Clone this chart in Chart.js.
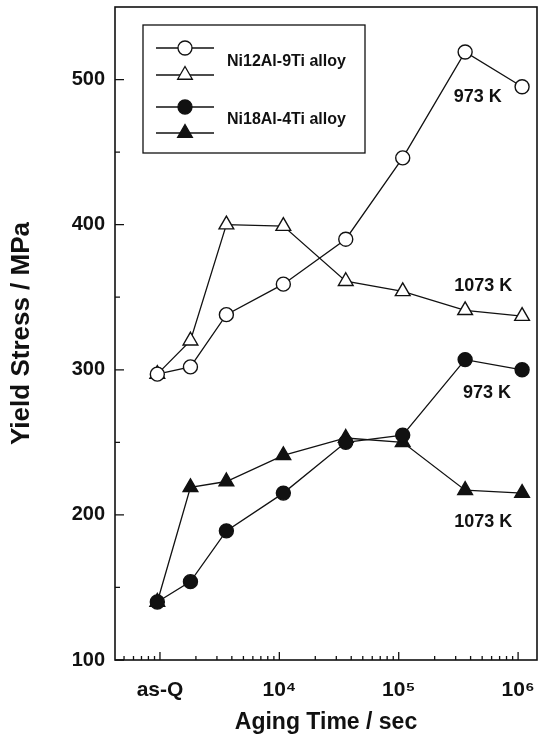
<!DOCTYPE html>
<html>
<head>
<meta charset="utf-8">
<script src="https://cdn.jsdelivr.net/npm/chart.js@4.4.1/dist/chart.umd.min.js"></script>
<style>
html,body{margin:0;padding:0;background:#fff}
#wrap{width:544px;height:738px}
</style>
</head>
<body>
<div id="wrap"><canvas id="graph"></canvas></div>
<script>
// tiempos de envejecimiento (s); el primero es el estado "as-Q"
const tiempos = [950, 1800, 3600, 10800, 36000, 108000, 360000, 1080000];
const ni12_973 = [297, 302, 338, 359, 390, 446, 519, 495];
const ni12_1073 = [297, 320, 400, 399, 361, 354, 341, 337];
const ni18_973 = [140, 154, 189, 215, 250, 255, 307, 300];
const ni18_1073 = [140, 219, 223, 241, 253, 250, 217, 215];
const xTicks = [1e3, 1e4, 1e5, 1e6];
const xTickLabels = ['as-Q', '10\u2074', '10\u2075', '10\u2076'];
const yTicks = [100, 200, 300, 400, 500];
const yMinor = [150, 250, 350, 450];
const aleaciones = ['Ni12Al-9Ti alloy', 'Ni18Al-4Ti alloy'];
const temperaturas = ['973 K', '1073 K', '973 K', '1073 K'];

const negro = '#111';
const fuente = 'Liberation Sans, Arial, sans-serif';
Chart.defaults.font.family = fuente;
Chart.defaults.color = '#111';

function serie(valores, estilo, relleno, radio) {
    return {
        data: tiempos.map((t, i) => ({x: t, y: valores[i]})),
        borderColor: negro,
        borderWidth: 1.3,
        pointStyle: estilo,
        pointRadius: radio,
        pointBorderWidth: 1.4,
        pointBorderColor: negro,
        pointBackgroundColor: relleno,
        tension: 0,
        clip: false
    };
}

// marco, marcas hacia dentro, leyenda y etiquetas de temperatura
const extras = {
    id: 'extras',
    afterDraw(chart) {
        const ctx = chart.ctx;
        const a = chart.chartArea;
        const sx = chart.scales.x, sy = chart.scales.y;
        ctx.save();
        ctx.strokeStyle = negro;
        ctx.lineWidth = 1.6;
        ctx.strokeRect(a.left, a.top, a.right - a.left, a.bottom - a.top);

        ctx.lineWidth = 1.3;
        ctx.beginPath();
        yTicks.forEach(v => { const y = sy.getPixelForValue(v); ctx.moveTo(a.left, y); ctx.lineTo(a.left + 9, y); });
        yMinor.forEach(v => { const y = sy.getPixelForValue(v); ctx.moveTo(a.left, y); ctx.lineTo(a.left + 5, y); });
        for (let d = 2; d <= 6; d++) {
            for (let m = 1; m <= 9; m++) {
                const v = m * Math.pow(10, d);
                if (v < sx.min || v > sx.max) continue;
                const x = sx.getPixelForValue(v);
                ctx.moveTo(x, a.bottom);
                ctx.lineTo(x, a.bottom - (m === 1 ? 8 : 4));
            }
        }
        ctx.stroke();

        // leyenda
        const lx = a.left + 28, ly = a.top + 18;
        ctx.lineWidth = 1.3;
        ctx.strokeRect(lx, ly, 222, 128);
        const filas = [
            {y: 23, estilo: 'circle', relleno: '#fff', r: 7},
            {y: 50, estilo: 'triangle', relleno: '#fff', r: 8.5},
            {y: 82, estilo: 'circle', relleno: negro, r: 7},
            {y: 108, estilo: 'triangle', relleno: negro, r: 8.5}
        ];
        filas.forEach(f => {
            const y = ly + f.y;
            ctx.beginPath();
            ctx.moveTo(lx + 13, y);
            ctx.lineTo(lx + 71, y);
            ctx.stroke();
            ctx.fillStyle = f.relleno;
            Chart.helpers.drawPoint(ctx, {pointStyle: f.estilo, radius: f.r, borderWidth: 1.4}, lx + 42, y);
        });
        ctx.fillStyle = negro;
        ctx.font = 'bold 16px ' + fuente;
        ctx.textBaseline = 'middle';
        ctx.textAlign = 'left';
        ctx.fillText(aleaciones[0], lx + 84, ly + 37);
        ctx.fillText(aleaciones[1], lx + 84, ly + 95);

        // temperaturas junto a cada curva
        const anclas = [[4.6e5, 488], [5.1e5, 358], [5.5e5, 284], [5.1e5, 195]];
        ctx.font = 'bold 18px ' + fuente;
        ctx.textAlign = 'center';
        anclas.forEach((p, i) => {
            ctx.fillText(temperaturas[i], sx.getPixelForValue(p[0]), sy.getPixelForValue(p[1]));
        });
        ctx.restore();
    }
};

new Chart(document.getElementById('graph'), {
    type: 'line',
    data: {
        datasets: [
            serie(ni12_973, 'circle', '#fff', 7),
            serie(ni12_1073, 'triangle', '#fff', 8.5),
            serie(ni18_973, 'circle', negro, 7),
            serie(ni18_1073, 'triangle', negro, 8.5)
        ]
    },
    options: {
        responsive: true,
        maintainAspectRatio: false,
        animation: false,
        layout: {autoPadding: false, padding: {left: 0, right: 7, top: 7, bottom: 0}},
        plugins: {legend: {display: false}, tooltip: {enabled: false}},
        scales: {
            x: {
                type: 'logarithmic',
                min: 420,
                max: 1.44e6,
                grid: {display: false},
                border: {display: false},
                afterBuildTicks: s => { s.ticks = xTicks.map(v => ({value: v})); },
                afterFit: s => { s.height = 78; s.paddingLeft = 0; s.paddingRight = 0; },
                ticks: {
                    autoSkip: false,
                    maxRotation: 0,
                    padding: 10,
                    font: {size: 21, weight: 'bold'},
                    callback: (v, i) => xTickLabels[i]
                },
                title: {
                    display: true,
                    text: 'Aging Time / sec',
                    font: {size: 23, weight: 'bold'},
                    padding: {top: 0, bottom: 2}
                }
            },
            y: {
                min: 100,
                max: 550,
                grid: {display: false},
                border: {display: false},
                afterBuildTicks: s => { s.ticks = yTicks.map(v => ({value: v})); },
                afterFit: s => { s.width = 115; s.paddingTop = 0; s.paddingBottom = 0; },
                ticks: {
                    padding: 2,
                    font: {size: 20, weight: 'bold'}
                },
                title: {
                    display: true,
                    text: 'Yield Stress / MPa',
                    font: {size: 26, weight: 'bold'},
                    padding: {top: 6, bottom: 0}
                }
            }
        }
    },
    plugins: [extras]
});
</script>
</body>
</html>
